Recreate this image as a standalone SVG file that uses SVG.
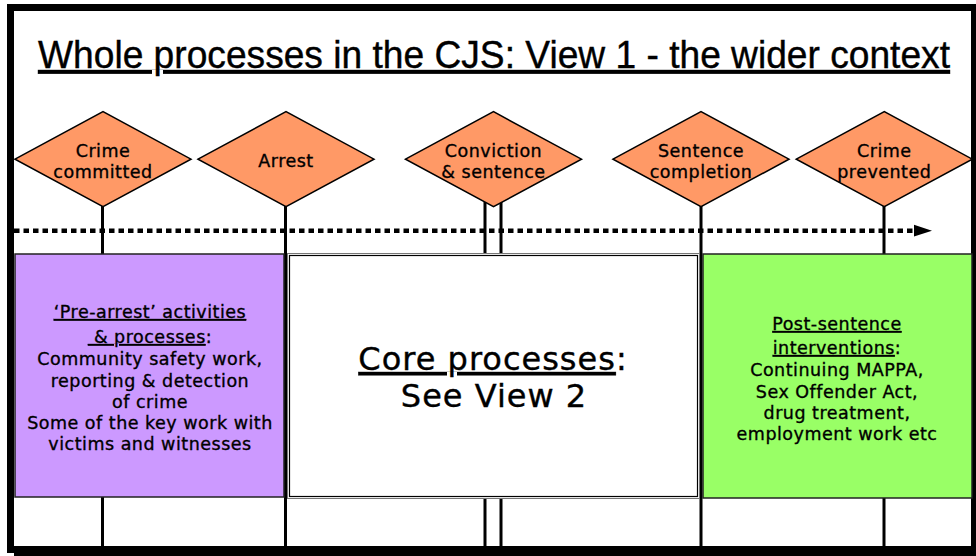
<svg xmlns="http://www.w3.org/2000/svg" xmlns:xlink="http://www.w3.org/1999/xlink" width="976" height="556" viewBox="0 0 976 556">
<style>
.lbl{font-family:"DejaVu Sans","Verdana",sans-serif;font-size:17.5px;letter-spacing:0.5px;fill:#000;stroke:#000;stroke-width:0.35px;text-anchor:middle}
.core{font-family:"DejaVu Sans","Verdana",sans-serif;font-size:32px;letter-spacing:1px;fill:#000;stroke:#000;stroke-width:0.4px;text-anchor:middle}
.title{font-family:"Liberation Sans Narrow","Liberation Sans",Arial,sans-serif;font-size:38px;fill:#000;stroke:#000;stroke-width:0.4px}
.u{text-decoration:underline}
.stem{stroke:#000;stroke-width:3;fill:none}
.dia{fill:#FF9966;stroke:#000;stroke-width:1.5}
</style>
<defs>
<polygon id="diamond" points="-88,0 0,-47.5 88,0 0,47.5"/>
</defs>
<rect x="0" y="0" width="976" height="556" fill="#fff"/>
<g id="frame" fill="#000">
<rect x="7" y="4" width="969" height="7"/>
<rect x="7" y="4" width="7" height="549"/>
<rect x="14" y="546" width="962" height="10"/>
<rect x="971" y="4" width="5" height="552"/>
</g>
<text id="title" class="title u" x="38" y="68" textLength="912" lengthAdjust="spacingAndGlyphs">Whole processes in the CJS: View 1 - the wider context</text>

<g id="connectors">
<line class="stem" x1="102.5" y1="206" x2="102.5" y2="546"/>
<line class="stem" x1="285.5" y1="206" x2="285.5" y2="546"/>
<line class="stem" x1="485" y1="200" x2="485" y2="546"/>
<line class="stem" x1="501" y1="200" x2="501" y2="546"/>
<line class="stem" x1="701" y1="206" x2="701" y2="546"/>
<line class="stem" x1="884" y1="206" x2="884" y2="546"/>
<line x1="14" y1="230.7" x2="916" y2="230.7" stroke="#000" stroke-width="4.5" stroke-dasharray="5.5 4"/>
<polygon points="914,224.8 932,230.7 914,236.6" fill="#000"/>
</g>

<g id="crime-committed">
<use xlink:href="#diamond" class="dia" x="103" y="159.2"/>
<text class="lbl" x="103" y="157">Crime</text>
<text class="lbl" x="103" y="178">committed</text>
</g>
<g id="arrest">
<use xlink:href="#diamond" class="dia" x="286" y="159.2"/>
<text class="lbl" x="286" y="167">Arrest</text>
</g>
<g id="conviction">
<use xlink:href="#diamond" class="dia" x="493.5" y="159.2"/>
<text class="lbl" x="493.5" y="157">Conviction</text>
<text class="lbl" x="493.5" y="178">&amp; sentence</text>
</g>
<g id="sentence-completion">
<use xlink:href="#diamond" class="dia" x="701" y="159.2"/>
<text class="lbl" x="701" y="157">Sentence</text>
<text class="lbl" x="701" y="178">completion</text>
</g>
<g id="crime-prevented">
<use xlink:href="#diamond" class="dia" x="884.3" y="159.2"/>
<text class="lbl" x="884.3" y="157">Crime</text>
<text class="lbl" x="884.3" y="178">prevented</text>
</g>

<g id="pre-arrest">
<rect x="15" y="254" width="269" height="243" fill="#CC99FF" stroke="#222" stroke-width="1.5"/>
<text class="lbl" x="150" y="318"><tspan class="u">‘Pre-arrest’ activities</tspan></text>
<text class="lbl" x="150" y="343" xml:space="preserve"><tspan class="u"> &amp; processes</tspan>:</text>
<text class="lbl" x="150" y="365">Community safety work,</text>
<text class="lbl" x="150" y="386.5">reporting &amp; detection</text>
<text class="lbl" x="150" y="407.5">of crime</text>
<text class="lbl" x="150" y="428.5">Some of the key work with</text>
<text class="lbl" x="150" y="450">victims and witnesses</text>
</g>

<g id="core">
<rect x="287.5" y="253.5" width="412" height="245" fill="#fff" stroke="#777" stroke-width="1"/>
<rect x="289.5" y="255.5" width="408" height="241" fill="none" stroke="#000" stroke-width="1.2"/>
<text class="core" x="493" y="370"><tspan class="u">Core processes</tspan>:</text>
<text class="core" x="494" y="407">See View 2</text>
</g>

<g id="post-sentence">
<rect x="703" y="254" width="269" height="244" fill="#99FF66" stroke="#222" stroke-width="1.5"/>
<text class="lbl" x="837" y="330"><tspan class="u">Post-sentence</tspan></text>
<text class="lbl" x="837" y="354"><tspan class="u">interventions</tspan>:</text>
<text class="lbl" x="837" y="376">Continuing MAPPA,</text>
<text class="lbl" x="837" y="397.5">Sex Offender Act,</text>
<text class="lbl" x="837" y="419">drug treatment,</text>
<text class="lbl" x="837" y="440">employment work etc</text>
</g>
</svg>
